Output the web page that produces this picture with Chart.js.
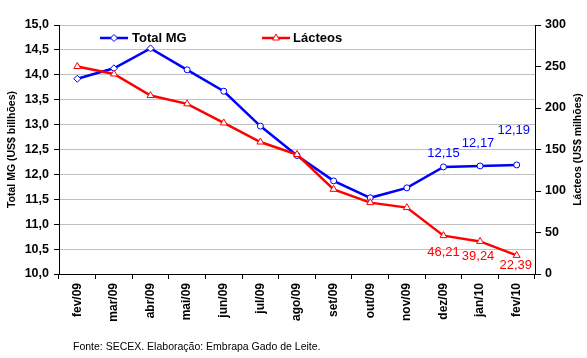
<!DOCTYPE html>
<html><head><meta charset="utf-8">
<script src="https://cdn.jsdelivr.net/npm/chart.js@4.4.1/dist/chart.umd.min.js"></script>
<style>html,body{margin:0;padding:0;background:#fff}#wrap{width:587px;height:358px}</style>
</head><body><div id="wrap"><canvas id="c" width="587" height="358"></canvas></div>
<script>
const categories = ['fev/09','mar/09','abr/09','mai/09','jun/09','jul/09','ago/09','set/09','out/09','nov/09','dez/09','jan/10','fev/10'];
const totalMG = [13.92, 14.13, 14.53, 14.10, 13.67, 12.97, 12.38, 11.87, 11.53, 11.73, 12.15, 12.17, 12.19];
const lacteos = [250, 241, 215, 205, 182, 159, 144, 102, 86, 80, 46.21, 39.24, 22.39];
const seriesNames = ['Total MG', 'Lácteos'];
const leftAxisTitle = 'Total MG (US$ billhões)';
const rightAxisTitle = 'Lácteos (US$ milhões)';
const sourceNote = 'Fonte: SECEX. Elaboração: Embrapa Gado de Leite.';
const labeledIndices = [10, 11, 12];

const F = 'Arial, "Liberation Sans", sans-serif';
const BLUE = '#0000FF', RED = '#FF0000';
const labelOffsets = [
  {10:[0,-14], 11:[-2,-23], 12:[-3,-34.5]},
  {10:[0,17], 11:[-2,15], 12:[-1,10]}
];
const fmt = (v,d) => v.toFixed(d).replace('.', ',');

const overlay = {
  id: 'overlay',
  afterDatasetsDraw(chart) {
    const ctx = chart.ctx;
    ctx.save();
    ctx.font = '13px ' + F;
    ctx.textAlign = 'center';
    ctx.textBaseline = 'middle';
    chart.data.datasets.forEach((ds, i) => {
      const meta = chart.getDatasetMeta(i);
      ctx.fillStyle = ds.borderColor;
      labeledIndices.forEach(idx => {
        const p = meta.data[idx];
        const o = labelOffsets[i][idx];
        ctx.fillText(fmt(ds.data[idx], 2), p.x + o[0], p.y + o[1]);
      });
    });
    ctx.restore();
  },
  afterDraw(chart) {
    const ctx = chart.ctx;
    ctx.save();
    ctx.fillStyle = '#000';
    ctx.font = 'bold 10.5px ' + F;
    ctx.textAlign = 'center';
    ctx.textBaseline = 'middle';
    const midY = (chart.chartArea.top + chart.chartArea.bottom) / 2;
    ctx.save(); ctx.translate(12, midY); ctx.rotate(-Math.PI/2); ctx.fillText(leftAxisTitle, 0, 0); ctx.restore();
    ctx.save(); ctx.translate(578.5, midY); ctx.rotate(-Math.PI/2); ctx.fillText(rightAxisTitle, 0, 0); ctx.restore();
    const legendItems = [{x0:100, x1:128, tx:132}, {x0:262, x1:290, tx:293}];
    const ly = 38;
    chart.data.datasets.forEach((ds, i) => {
      const L = legendItems[i];
      ctx.strokeStyle = ds.borderColor;
      ctx.lineWidth = 2.5;
      ctx.beginPath(); ctx.moveTo(L.x0, ly); ctx.lineTo(L.x1, ly); ctx.stroke();
      ctx.fillStyle = '#fff';
      ctx.lineWidth = 1;
      Chart.helpers.drawPoint(ctx, {pointStyle: i === 0 ? 'rectRot' : 'triangle', radius: i === 0 ? 3.5 : 4, rotation: 0, borderWidth: 1}, (L.x0 + L.x1)/2, ly);
      ctx.fillStyle = '#000';
      ctx.font = 'bold 13px ' + F;
      ctx.textAlign = 'left';
      ctx.fillText(ds.label, L.tx, ly);
    });
    ctx.font = '10.5px ' + F;
    ctx.textAlign = 'left';
    ctx.fillStyle = '#000';
    ctx.fillText(sourceNote, 73, 347);
    ctx.restore();
  }
};

const blueStyles = totalMG.map((v, i) => i < 3 ? 'rectRot' : 'circle');
const blueRadii = totalMG.map((v, i) => i < 3 ? 3.5 : 3);

new Chart(document.getElementById('c'), {
  type: 'line',
  data: {
    labels: categories,
    datasets: [
      {label: seriesNames[0], data: totalMG, yAxisID: 'y', borderColor: BLUE, backgroundColor: '#fff',
       borderWidth: 2.5, pointStyle: blueStyles, pointRadius: blueRadii, pointBorderWidth: 1, pointBackgroundColor: '#fff', pointBorderColor: BLUE, tension: 0, order: 1},
      {label: seriesNames[1], data: lacteos, yAxisID: 'y1', borderColor: RED, backgroundColor: '#fff',
       borderWidth: 2.5, pointStyle: 'triangle', pointRadius: 4, pointBorderWidth: 1, pointBackgroundColor: '#fff', pointBorderColor: RED, tension: 0, order: 0}
    ]
  },
  options: {
    responsive: false,
    animation: false,
    devicePixelRatio: 1,
    layout: {padding: {top: 25, left: 0, right: 0, bottom: 0}},
    plugins: {legend: {display: false}, tooltip: {enabled: false}, title: {display: false}},
    scales: {
      x: {
        offset: true,
        grid: {offset: true, drawOnChartArea: false, tickLength: 5, tickColor: '#000'},
        border: {color: '#000', width: 1},
        ticks: {minRotation: 90, maxRotation: 90, autoSkip: false, padding: 4, color: '#000', font: {family: F, size: 12, weight: 'bold'}},
        afterFit(s) { s.height = 84; }
      },
      y: {
        position: 'left',
        min: 10, max: 15,
        grid: {color: c => (c.tick && c.tick.value === 10) ? 'rgba(0,0,0,0)' : '#C0C0C0', tickLength: 5, tickColor: '#000'},
        border: {color: '#000', width: 1},
        ticks: {stepSize: 0.5, padding: 5, color: '#000', font: {family: F, size: 12.5, weight: 'bold'}, callback: v => fmt(v, 1)},
        afterFit(s) { s.width = 59; }
      },
      y1: {
        position: 'right',
        min: 0, max: 300,
        grid: {drawOnChartArea: false, tickLength: 6, tickColor: '#000'},
        border: {color: '#000', width: 1},
        ticks: {stepSize: 50, padding: 4, color: '#000', font: {family: F, size: 12.5, weight: 'bold'}},
        afterFit(s) { s.width = 52; }
      }
    }
  },
  plugins: [overlay]
});
</script></body></html>
